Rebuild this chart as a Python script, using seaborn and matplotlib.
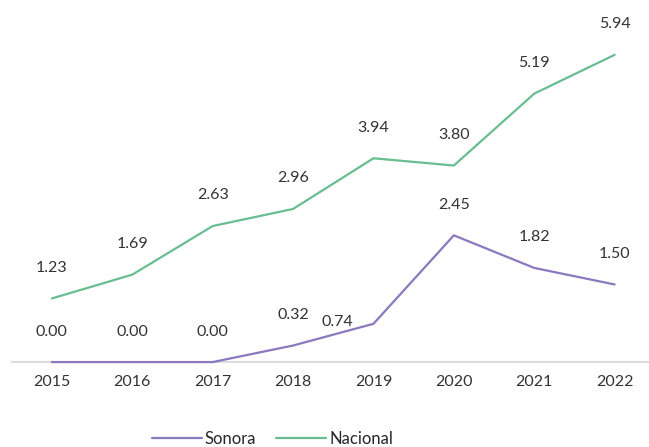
import pandas as pd
import matplotlib.pyplot as plt
import seaborn as sns

# Data
years = [2015, 2016, 2017, 2018, 2019, 2020, 2021, 2022]
sonora = [0.00, 0.00, 0.00, 0.32, 0.74, 2.45, 1.82, 1.50]
nacional = [1.23, 1.69, 2.63, 2.96, 3.94, 3.80, 5.19, 5.94]

df = pd.DataFrame({
    'year': [str(y) for y in years] * 2,
    'valor': sonora + nacional,
    'serie': ['Sonora'] * len(years) + ['Nacional'] * len(years),
})

sns.set_theme(style='white')
plt.rcParams['font.family'] = ['Lato', 'DejaVu Sans']

colors = {'Sonora': '#8b78bf', 'Nacional': '#68bd91'}

fig = plt.figure(figsize=(6.49, 4.47), dpi=100)
ax = fig.add_axes([0.018, 0.19, 0.991, 0.81])
sns.lineplot(data=df, x='year', y='valor', hue='serie', palette=colors,
             linewidth=1.6, ax=ax, sort=False)
for line in ax.get_lines():
    line.set_clip_on(False)
    line.set_zorder(5)

# value labels
for serie, vals in [('Sonora', sonora), ('Nacional', nacional)]:
    for i, v in enumerate(vals):
        dx, dy = 0, 22
        if serie == 'Sonora' and years[i] == 2019:
            dx, dy = -26, 1
        ax.annotate(f'{v:.2f}', (i, v), xytext=(dx, dy), textcoords='offset points',
                    ha='center', va='center', fontsize=11.5, color='#333333')

ax.set_xlim(-0.5, 7.5)
ax.set_ylim(0, 7.0)
ax.set_xlabel('')
ax.set_ylabel('')
ax.set_yticks([])
ax.tick_params(axis='x', length=0, labelsize=11.5, labelcolor='#333333', pad=9)
for s in ['top', 'left', 'right']:
    ax.spines[s].set_visible(False)
ax.spines['bottom'].set_color('#dddddd')
ax.spines['bottom'].set_linewidth(1.5)
ax.spines['bottom'].set_zorder(1)

handles, labels = ax.get_legend_handles_labels()
ax.legend(handles, labels, loc='lower center', bbox_to_anchor=(0.42, -0.015),
          bbox_transform=fig.transFigure, ncol=2, frameon=False, fontsize=12,
          handlelength=3, handletextpad=0.2, columnspacing=1.2, borderaxespad=0.0)

fig.savefig('out.png', dpi=100)
